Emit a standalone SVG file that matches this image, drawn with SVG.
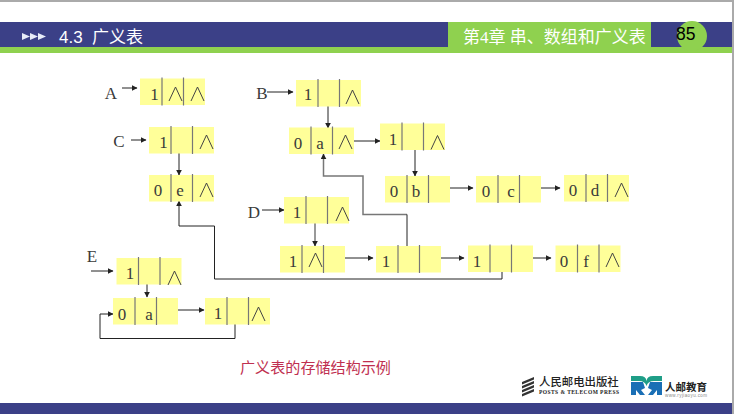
<svg xmlns="http://www.w3.org/2000/svg" width="734" height="414" viewBox="0 0 734 414">
<style>
.c{fill:#ffff99}
.d{stroke:#777;stroke-width:1.2;fill:none}
.t{font-family:"Liberation Serif","Noto Sans CJK SC",serif;font-size:17px;fill:#3a3a3a;text-anchor:middle}
.l{stroke:#222;stroke-width:1;fill:none}
.g{stroke:#777;stroke-width:1.5;fill:none}
.v{stroke:#444;stroke-width:1;fill:none;stroke-linejoin:miter}
</style>
<defs>
<marker id="a" markerWidth="6" markerHeight="6" refX="5" refY="3" orient="auto" markerUnits="userSpaceOnUse"><path d="M0,0.2L5.500,3L0,5.800z" fill="#222"/></marker>
<g id="n"><rect class="c" width="65" height="26.500"/><path class="d" d="M22,-1V27M43.500,-1V27"/></g>
<g id="w"><path class="v" d="M0,14L6.500,0L13,14"/></g>
</defs>
<rect width="734" height="414" fill="#fff"/>
<g id="frame">
<rect x="0" y="0" width="734" height="2" fill="#aaa"/>
<rect x="732" y="0" width="2" height="414" fill="#aaa"/>
<rect x="0" y="22" width="732" height="25" fill="#3b4087"/>
<rect x="0" y="47" width="732" height="6" fill="#8fd14f"/>
<rect x="448" y="22" width="203" height="25" fill="#8fd14f"/>
<circle cx="692" cy="36" r="15" fill="#8fd14f"/>
<rect x="0" y="403" width="732" height="11" fill="#3b4087"/>
<path d="M22,33l8,3.500l-8,3.500zM30,33l8,3.500l-8,3.500zM38,33l8,3.500l-8,3.500z" fill="#e8ecf8"/>
<text x="59" y="43" font-family="'Liberation Sans','Noto Sans CJK SC',sans-serif" font-size="17" fill="#fff">4.3</text>
<text x="92" y="43" font-family="'Noto Sans CJK SC',sans-serif" font-size="17" fill="#fff">广义表</text>
<text x="463" y="43" font-family="'Liberation Serif','Noto Sans CJK SC',serif" font-size="17" fill="#fff">第4章 串、数组和广义表</text>
<text x="676" y="40" font-family="'Liberation Sans',sans-serif" font-size="17.500" fill="#000">85</text>
</g>
<g id="connectors">
<path class="l" marker-end="url(#a)" d="M122,88H137"/>
<path class="l" marker-end="url(#a)" d="M131,140H146"/>
<path class="l" marker-end="url(#a)" d="M179,145V175"/>
<path class="l" marker-end="url(#a)" d="M267,92H293"/>
<path class="l" marker-end="url(#a)" d="M328,93V128"/>
<path class="l" marker-end="url(#a)" d="M354,141H380"/>
<path class="l" marker-end="url(#a)" d="M415,141V176"/>
<path class="l" marker-end="url(#a)" d="M449,188H473"/>
<path class="l" marker-end="url(#a)" d="M528,188H560"/>
<path class="g" marker-end="url(#a)" d="M407,214.500H363V176H323.500V154"/>
<path class="l" stroke-width="1.500" d="M407,214.500V246"/>
<path class="l" marker-end="url(#a)" d="M262,210H284"/>
<path class="g" marker-end="url(#a)" d="M315,210V246"/>
<path class="l" marker-end="url(#a)" d="M341,258H373"/>
<path class="l" marker-end="url(#a)" d="M441,258H464"/>
<path class="l" marker-end="url(#a)" d="M520,258H551"/>
<path class="l" marker-end="url(#a)" d="M502,263V279H214.500V226H179V201"/>
<path class="l" marker-end="url(#a)" d="M91,271H113"/>
<path class="l" marker-end="url(#a)" d="M147,284V297"/>
<path class="l" marker-end="url(#a)" d="M178,310H204"/>
<path class="l" marker-end="url(#a)" stroke-width="1.300" d="M235,324V338.500H100V314H113"/>
</g>
<g id="node-A"><use href="#n" x="140" y="78.500"/><text class="t" x="154.500" y="100">1</text><use href="#w" x="169" y="87"/><use href="#w" x="191" y="87"/></g>
<text class="t" x="111" y="99" id="label-A">A</text>
<g id="node-C"><use href="#n" x="149" y="127"/><text class="t" x="163.500" y="148">1</text><use href="#w" x="200" y="135"/></g>
<text class="t" x="119" y="147" id="label-C">C</text>
<g id="node-e"><use href="#n" x="149" y="175"/><text class="t" x="158" y="196">0</text><text class="t" x="180" y="196">e</text><use href="#w" x="200" y="183"/></g>
<g id="node-B"><use href="#n" x="296" y="80"/><text class="t" x="308" y="100">1</text><use href="#w" x="346" y="90"/></g>
<text class="t" x="262" y="99" id="label-B">B</text>
<g id="node-a1"><use href="#n" x="289" y="127.500"/><text class="t" x="298" y="149">0</text><text class="t" x="320" y="149">a</text><use href="#w" x="339" y="135"/></g>
<g id="node-1r"><use href="#n" x="380" y="123.500"/><text class="t" x="393" y="145">1</text><use href="#w" x="431" y="135.500"/></g>
<g id="node-b"><use href="#n" x="385" y="176"/><text class="t" x="394" y="197">0</text><text class="t" x="416" y="197">b</text></g>
<g id="node-c"><use href="#n" x="476" y="176"/><text class="t" x="486" y="197">0</text><text class="t" x="511" y="197">c</text></g>
<g id="node-d"><use href="#n" x="564" y="175"/><text class="t" x="573" y="196">0</text><text class="t" x="595" y="196">d</text><use href="#w" x="615" y="183"/></g>
<g id="node-D"><use href="#n" x="284" y="197"/><text class="t" x="297" y="218">1</text><use href="#w" x="336" y="207"/></g>
<text class="t" x="254" y="218" id="label-D">D</text>
<g id="node-1a"><use href="#n" x="280" y="246"/><text class="t" x="293" y="267">1</text><use href="#w" x="309" y="253"/></g>
<g id="node-1b"><use href="#n" x="376" y="246"/><text class="t" x="386" y="267">1</text></g>
<g id="node-1c"><use href="#n" x="468" y="245.500"/><text class="t" x="477" y="267">1</text></g>
<g id="node-f"><use href="#n" x="555.500" y="245.500"/><text class="t" x="564" y="267">0</text><text class="t" x="586" y="267">f</text><use href="#w" x="606" y="253"/></g>
<g id="node-E"><use href="#n" x="116.500" y="258"/><text class="t" x="130" y="279">1</text><use href="#w" x="168" y="271"/></g>
<text class="t" x="92" y="262" id="label-E">E</text>
<g id="node-a2"><use href="#n" x="113" y="298"/><text class="t" x="122" y="320">0</text><text class="t" x="149" y="320">a</text></g>
<g id="node-1e"><use href="#n" x="205" y="298"/><text class="t" x="218" y="319">1</text><use href="#w" x="252" y="307"/></g>
<text id="caption" x="240" y="373" font-family="'Noto Sans CJK SC',serif" font-size="15.100" fill="#c03050">广义表的存储结构示例</text>
<g id="logo">
<path d="M522,382l12,-5v2.500l-12,5zM522,386l12,-5v2.500l-12,5zM522,390l12,-5v2.500l-12,5zM522,394l12,-5v2.500l-12,5z" fill="#333"/>
<text x="539" y="385.500" font-family="'Noto Sans CJK SC',sans-serif" font-size="11.400" font-weight="500" fill="#222">人民邮电出版社</text>
<text x="539" y="394" font-family="'Liberation Serif',serif" font-size="5.500" font-weight="700" fill="#222" textLength="80">POSTS &amp; TELECOM PRESS</text>
<path d="M631,376H640Q646,376 646.500,381Q647,376 653,376H662V381H654Q648,381 646.500,386Q645,381 639,381H631z" fill="#1f9e87"/>
<path d="M631,382H643L645,388L641,390L645,395H640L636,390V395H631z" fill="#1a6fb5"/>
<path d="M662,382H650L648,388L652,390L648,395H653L657,390V395H662z" fill="#1a6fb5"/>
<text x="665" y="391" font-family="'Noto Sans CJK SC',sans-serif" font-size="10.500" font-weight="700" fill="#222">人邮教育</text>
<text x="665" y="397" font-family="'Liberation Sans',sans-serif" font-size="4.500" fill="#888" textLength="42">www.ryjiaoyu.com</text>
</g>
</svg>
